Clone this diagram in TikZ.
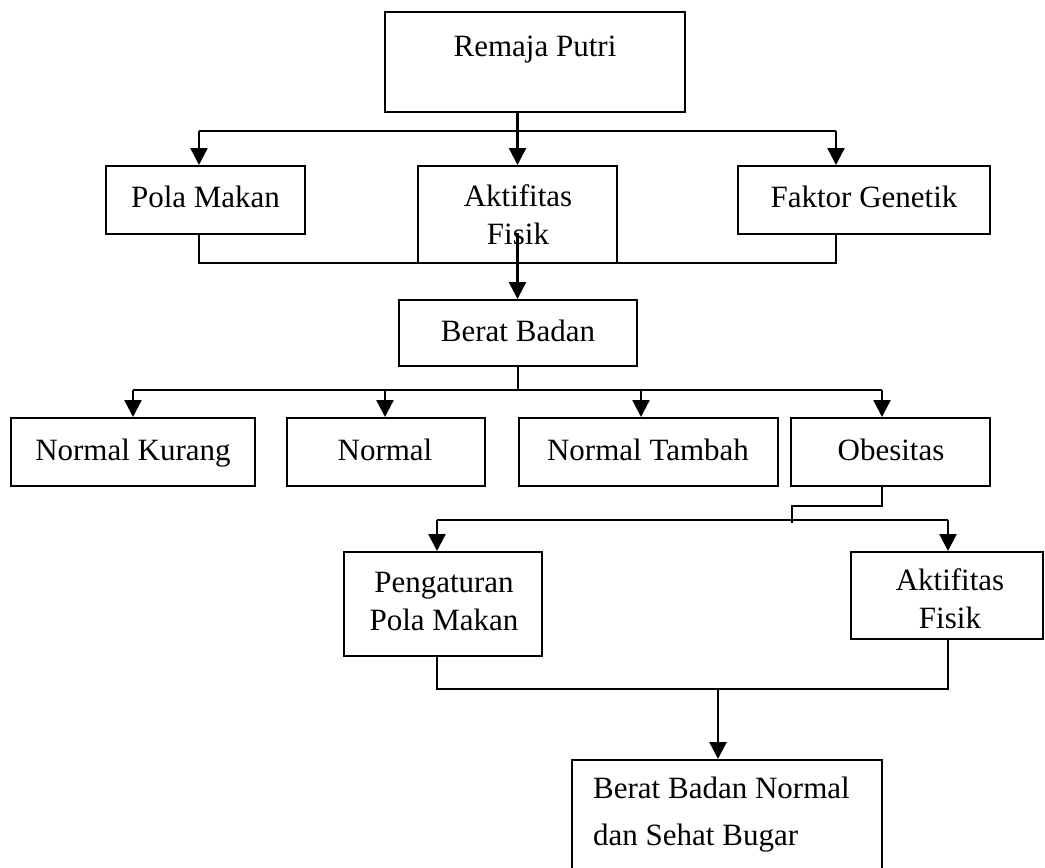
\documentclass[tikz,border=0pt]{standalone}
\usepackage{fontspec}
\setmainfont{Liberation Serif}
\usetikzlibrary{arrows.meta}
\begin{document}
\begin{tikzpicture}[x=1pt,y=-1pt,
  box/.style={draw, line width=2pt, rectangle, inner sep=0pt},
  txt/.style={font=\fontsize{31}{38}\selectfont, inner sep=0pt, align=center},
  con/.style={line width=2.4pt},
  arr/.style={con, -{Triangle[length=17pt,width=17pt]}}]
\useasboundingbox (0,0) rectangle (1045,868);
% boxes
\node[box, minimum width=300pt, minimum height=100pt] (remaja) at (535,62) {};
\node[box, minimum width=199pt, minimum height=68pt] (pola) at (205.5,200) {};
\node[box, minimum width=199pt, minimum height=97pt] (akt) at (517.5,214.5) {};
\node[box, minimum width=252pt, minimum height=68pt] (faktor) at (864,200) {};
\node[box, minimum width=238pt, minimum height=66pt] (berat) at (518,333) {};
\node[box, minimum width=244pt, minimum height=68pt] (nk) at (133,452) {};
\node[box, minimum width=198pt, minimum height=68pt] (nn) at (386,452) {};
\node[box, minimum width=259pt, minimum height=68pt] (nt) at (648.5,452) {};
\node[box, minimum width=199pt, minimum height=68pt] (ob) at (890.5,452) {};
\node[box, minimum width=198pt, minimum height=104pt] (peng) at (443,604) {};
\node[box, minimum width=192pt, minimum height=87pt] (akt2) at (947,595.5) {};
\node[box, minimum width=310pt, minimum height=140pt] (final) at (727,830) {};
% texts
\node[txt, anchor=base] (remajat) at (535,56) {Remaja Putri};
\node[txt, anchor=base] (polat) at (205.5,207) {Pola Makan};
\node[txt, anchor=base] (aktt) at (518,244) {Aktifitas\\Fisik};
\node[txt, anchor=base] (faktort) at (864,207) {Faktor Genetik};
\node[txt, anchor=base] (beratt) at (518,341) {Berat Badan};
\node[txt, anchor=base] (nkt) at (133,460) {Normal Kurang};
\node[txt, anchor=base] (nnt) at (385,460) {Normal};
\node[txt, anchor=base] (ntt) at (648,460) {Normal Tambah};
\node[txt, anchor=base] (obt) at (891,460) {Obesitas};
\node[txt, anchor=base] (pengt) at (444,630) {Pengaturan\\Pola Makan};
\node[txt, anchor=base] (akt2t) at (950,628) {Aktifitas\\Fisik};
\node[txt, anchor=base west, align=left, font=\fontsize{31}{47}\selectfont] (finalt) at (593,845) {Berat Badan Normal\\dan Sehat Bugar};
% level 1
\draw[arr] (remaja.south -| akt.north) -- (akt.north);
\coordinate (bl) at (199,131);
\coordinate (br) at (836,131);
\draw[con] (bl) -- (br);
\draw[arr] (bl) -- (bl |- pola.north);
\draw[arr] (br) -- (br |- faktor.north);
\coordinate (cl) at (199,263);
\coordinate (cr) at (836,263);
\draw[con] (bl |- pola.south) -- (cl) -- (cr) -- (br |- faktor.south);
\coordinate (aks) at (517.5,233);
\draw[arr] (aks) -- (aks |- berat.north);
% level 2
\coordinate (dl) at (133,390);
\coordinate (dn) at (385,390);
\coordinate (dt) at (641,390);
\coordinate (dr) at (882,390);
\draw[con] (berat.south) -- (berat.south |- dl);
\draw[con] (dl) -- (dr);
\draw[arr] (dl) -- (dl |- nk.north);
\draw[arr] (dn) -- (dn |- nn.north);
\draw[arr] (dt) -- (dt |- nt.north);
\draw[arr] (dr) -- (dr |- ob.north);
% level 3
\coordinate (o1) at (882,506);
\coordinate (o2) at (792,506);
\coordinate (o3) at (792,523);
\draw[con] (dr |- ob.south) -- (o1) -- (o2) -- (o3);
\coordinate (el) at (437,520);
\coordinate (er) at (948,520);
\draw[con] (el) -- (er);
\draw[arr] (el) -- (el |- peng.north);
\draw[arr] (er) -- (er |- akt2.north);
% level 4
\coordinate (fl) at (437,689);
\coordinate (fr) at (948,689);
\coordinate (fm) at (718,689);
\draw[con] (el |- peng.south) -- (fl) -- (fr) -- (er |- akt2.south);
\draw[arr] (fm) -- (fm |- final.north);
\end{tikzpicture}
\end{document}
